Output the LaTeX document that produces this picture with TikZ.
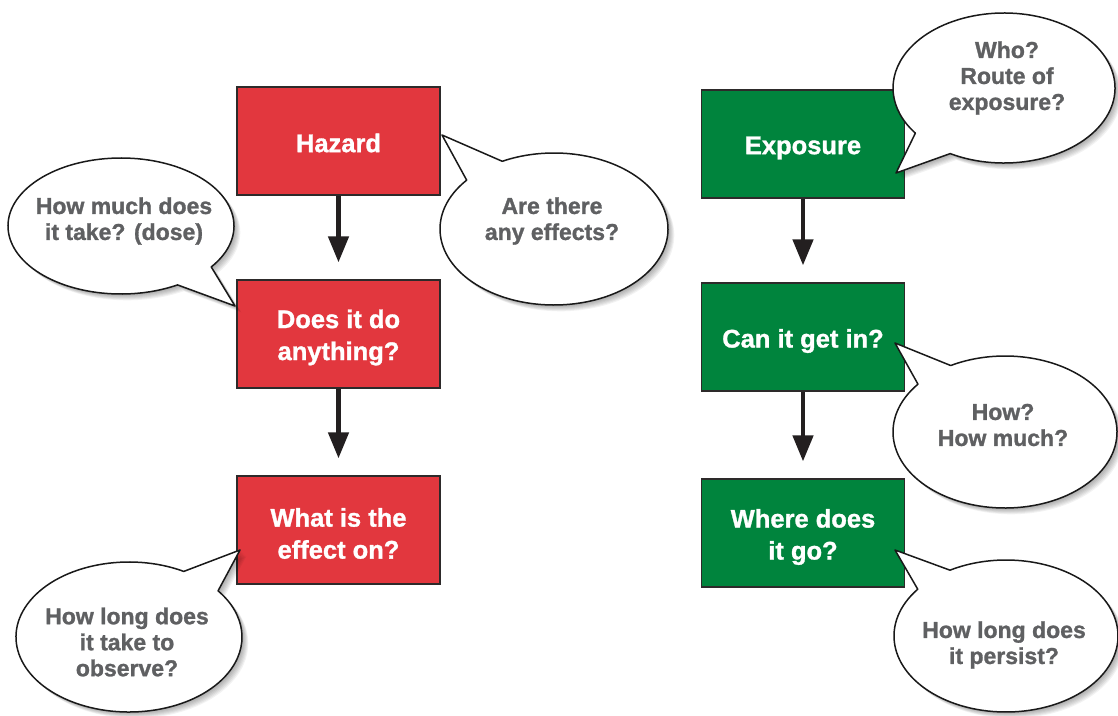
\documentclass[tikz,border=0pt]{standalone}
\usepackage{fontspec}
\setmainfont{Liberation Sans}[BoldFeatures={FakeBold=1.2}]
\usetikzlibrary{arrows.meta,calc}
\definecolor{hzred}{RGB}{226,55,62}
\definecolor{exgreen}{RGB}{0,132,61}
\definecolor{qgray}{RGB}{95,96,98}
\definecolor{arrowdark}{RGB}{35,31,32}
\definecolor{boxline}{RGB}{45,42,42}
\pgfdeclarelayer{bg}
\pgfsetlayers{bg,main}
% cx cy rx ry t1 t2 tipx tipy
\newcommand\bubblepath[8]{($(#1,#2)+(#6:#3 and #4)$) -- (#7,#8) -- ($(#1,#2)+(#5:#3 and #4)$) arc[start angle=#5, end angle=#6-360, x radius=#3, y radius=#4] -- cycle}
\newcommand\bubble[8]{%
  \foreach \s in {1,...,7}{\fill[black,opacity=0.05,shift={(\s*0.9,\s*0.9)}] \bubblepath{#1}{#2}{#3}{#4}{#5}{#6}{#7}{#8};}
  \draw[bubbleline] \bubblepath{#1}{#2}{#3}{#4}{#5}{#6}{#7}{#8};
}
\newcommand\boxshadow[1]{%
  \begin{pgfonlayer}{bg}
  \foreach \s in {1,...,7}{\fill[black,opacity=0.055] ([shift={(\s*0.9,\s*0.9)}]#1.north west) rectangle ([shift={(\s*0.9,\s*0.9)}]#1.south east);}
  \end{pgfonlayer}
}
\begin{document}
\begin{tikzpicture}[x=1pt,y=-1pt,
  box/.style={draw=boxline, line width=1.2pt, minimum width=203pt, minimum height=108pt, inner sep=0pt},
  redbox/.style={box, fill=hzred},
  greenbox/.style={box, fill=exgreen},
  boxtext/.style={align=center, text=white, inner sep=0pt, font=\fontsize{25.5}{32}\selectfont\bfseries},
  flowarrow/.style={draw=arrowdark, line width=4.5pt, -{Triangle[length=26pt,width=20pt]}, shorten >=17pt},
  bubbleline/.style={draw=black!90, line width=1.5pt, fill=white, line join=round},
  qtext/.style={align=center, text=qgray, inner sep=0pt, font=\fontsize{23}{26}\selectfont\bfseries}
]
\useasboundingbox[fill=white] (0,0) rectangle (1118,715);

% boxes
\node[redbox] (hazard) at (338.5,141) {};
\node[redbox] (does) at (338.5,334) {};
\node[redbox] (effect) at (338.5,530) {};
\node[greenbox] (exposure) at (803,144) {};
\node[greenbox] (getin) at (803,337) {};
\node[greenbox] (where) at (803,533) {};
\boxshadow{hazard}\boxshadow{does}\boxshadow{effect}
\boxshadow{exposure}\boxshadow{getin}\boxshadow{where}

\node[boxtext] (hazardt) at (338.5,143) {Hazard};
\node[boxtext] (doest) at (338.5,337.5) {Does it do\\anything?};
\node[boxtext] (effectt) at (338.5,533.5) {What is the\\effect on?};
\node[boxtext] (exposuret) at (803,148) {Exposure};
\node[boxtext] (getint) at (803,341) {Can it get in?};
\node[boxtext] (wheret) at (803,537) {Where does\\it go?};

% arrows
\draw[flowarrow] (hazard) -- (does);
\draw[flowarrow] (does) -- (effect);
\draw[flowarrow] (exposure) -- (getin);
\draw[flowarrow] (getin) -- (where);

% speech bubbles
\bubble{121}{226}{113}{68}{37}{60}{235}{306}
\bubble{554}{229}{114}{76}{-140}{-117}{442}{135}
\bubble{1004}{88}{111}{75}{119}{143}{896}{173}
\bubble{1005}{432}{112}{76}{-141}{-119}{895}{343}
\bubble{129}{637}{113}{75}{-61}{-38}{240}{550}
\bubble{1006}{636}{112}{76}{-142}{-120}{895}{550}

\node[qtext] (q1) at (124,221) {How much does\\it take? (dose)};
\node[qtext] (q2) at (552,221) {Are there\\any effects?};
\node[qtext] (q3) at (1007,78) {Who?\\Route of\\exposure?};
\node[qtext] (q4) at (1003,425) {How?\\How much?};
\node[qtext] (q5) at (127,642) {How long does\\it take to\\observe?};
\node[qtext] (q6) at (1004,645) {How long does\\it persist?};
\end{tikzpicture}
\end{document}
